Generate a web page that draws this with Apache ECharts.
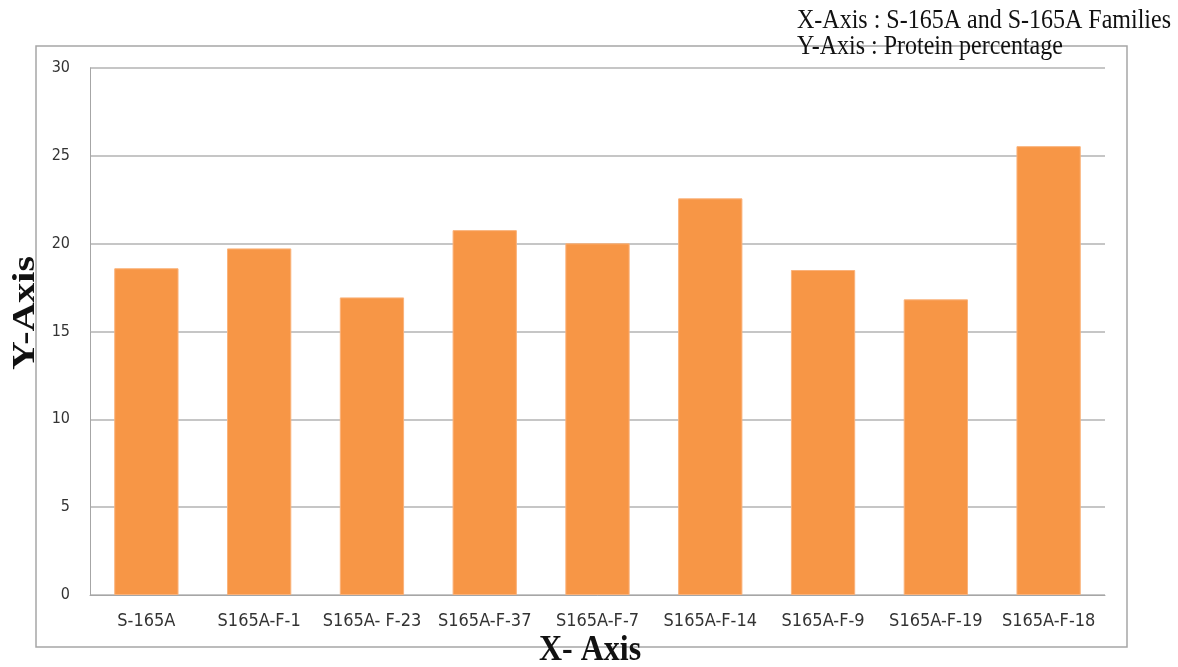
<!DOCTYPE html>
<html>
<head>
<meta charset="utf-8">
<script src="https://cdn.jsdelivr.net/npm/echarts@6/dist/echarts.min.js"></script>
<style>
  html, body { margin: 0; padding: 0; background: #fff; }
  #chart { width: 1178px; height: 667px; }
</style>
</head>
<body>
<div id="chart"></div>
<script>
// Protein percentage for S-165A and its families
const categories = ['S-165A', 'S165A-F-1', 'S165A- F-23', 'S165A-F-37', 'S165A-F-7',
                    'S165A-F-14', 'S165A-F-9', 'S165A-F-19', 'S165A-F-18'];
const proteinValues = [18.6, 19.73, 16.94, 20.77, 20.02, 22.58, 18.5, 16.83, 25.55];
const yTicks = { min: 0, max: 30, interval: 5 };
const noteLines = ['X-Axis : S-165A and S-165A Families', 'Y-Axis : Protein percentage'];

const chart = echarts.init(document.getElementById('chart'), null, { renderer: 'canvas' });

const serif = '"Liberation Serif", "DejaVu Serif", serif';
const labelFont = '"DejaVu Sans Condensed", "DejaVu Sans", sans-serif';

chart.setOption({
  animation: false,
  backgroundColor: '#ffffff',
  grid: { left: 90, right: 73, top: 68, bottom: 72, containLabel: false },
  xAxis: {
    type: 'category',
    data: categories,
    axisLine: { show: true, lineStyle: { color: '#a6a6a6', width: 1 } },
    axisTick: { show: false },
    axisLabel: {
      margin: 17,
      color: '#333333',
      fontSize: 18,
      fontFamily: labelFont,
      interval: 0
    }
  },
  yAxis: {
    type: 'value',
    min: yTicks.min,
    max: yTicks.max,
    interval: yTicks.interval,
    axisLine: { show: true, lineStyle: { color: '#a6a6a6', width: 1 } },
    axisTick: { show: false },
    splitLine: { show: true, lineStyle: { color: '#b3b3b3', width: 1.5 } },
    axisLabel: {
      margin: 20,
      color: '#333333',
      fontSize: 16,
      fontFamily: labelFont
    }
  },
  series: [{
    type: 'bar',
    data: proteinValues,
    barWidth: '57%',
    itemStyle: { color: '#F79646', borderColor: '#FAB27A', borderWidth: 1 }
  }],
  graphic: [
    {
      type: 'rect',
      shape: { x: 36, y: 46, width: 1091, height: 601 },
      style: { fill: null, stroke: '#a6a6a6', lineWidth: 1.5 },
      z: -1
    },
    {
      type: 'text',
      x: 797, y: 21,
      scaleY: 1.12,
      style: { text: noteLines[0], font: '24px ' + serif, fill: '#111',
               align: 'left', verticalAlign: 'middle' }
    },
    {
      type: 'text',
      x: 797, y: 47,
      scaleY: 1.12,
      style: { text: noteLines[1], font: '24px ' + serif, fill: '#111',
               align: 'left', verticalAlign: 'middle' }
    },
    {
      type: 'text',
      x: 26, y: 313,
      rotation: Math.PI / 2,
      scaleX: 1.25,
      style: { text: 'Y-Axis', font: 'bold 32px ' + serif, fill: '#111',
               align: 'center', verticalAlign: 'middle' }
    },
    {
      type: 'text',
      x: 590, y: 651,
      scaleY: 1.1,
      style: { text: 'X- Axis', font: 'bold 32px ' + serif, fill: '#111',
               align: 'center', verticalAlign: 'middle' }
    }
  ]
});
</script>
</body>
</html>
